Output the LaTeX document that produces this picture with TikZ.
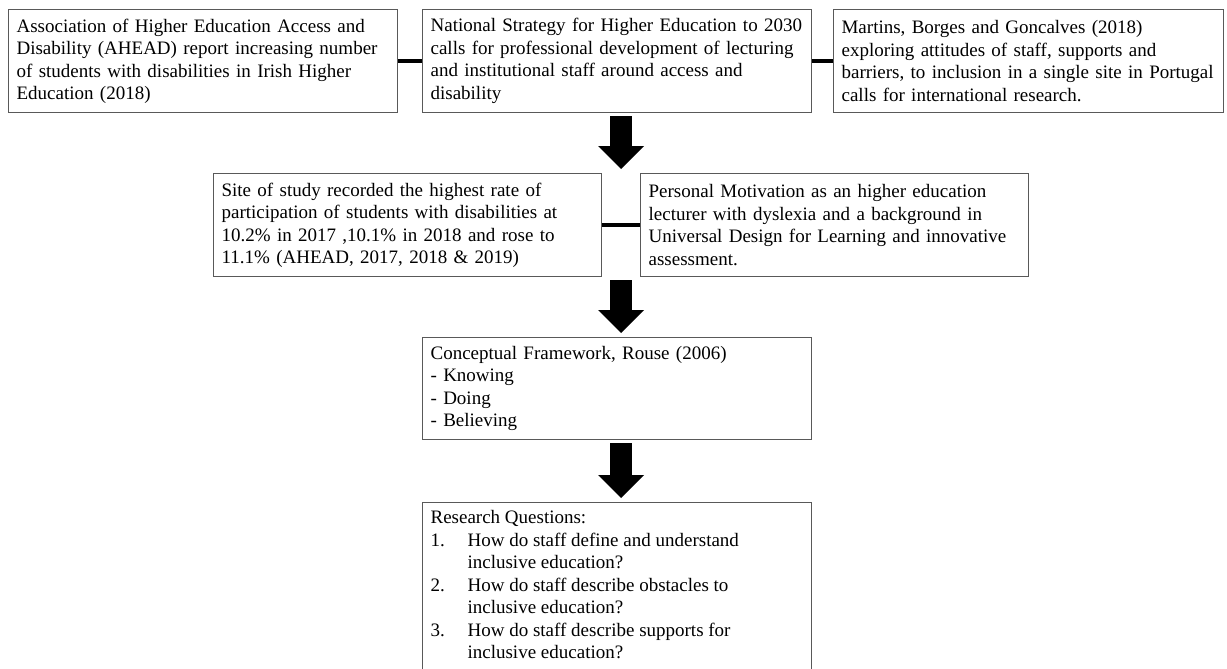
\documentclass[tikz,border=0pt]{standalone}
\usepackage{fontspec}
\setmainfont{Liberation Serif}
\usetikzlibrary{arrows.meta}
\begin{document}
\begin{tikzpicture}[x=1pt,y=-1pt,
  box/.style={draw=black!65, line width=1.2pt, anchor=north west, align=left,
    inner xsep=8pt, inner ysep=0pt, font=\fontsize{19}{22.5}\selectfont},
  link/.style={line width=4pt, draw=black},
  bigarrow/.style={line width=22pt, draw=black,
    -{Triangle[width=46pt,length=23pt,line width=0pt]},
    shorten <=3pt, shorten >=4pt}]
\useasboundingbox (0,0) rectangle (1227,669);

\node[box, text width=373pt, minimum height=103pt] (b1) at (8,9)
  {Association of Higher Education Access and\\
   Disability (AHEAD) report increasing number\\
   of students with disabilities in Irish Higher\\
   Education (2018)};
\node[box, text width=373pt, minimum height=103pt] (b2) at (422,9)
  {National Strategy for Higher Education to 2030\\
   calls for professional development of lecturing\\
   and institutional staff around access and\\
   disability};
\node[box, text width=374pt, minimum height=103pt] (b3) at (833,9)
  {Martins, Borges and Goncalves (2018)\\
   exploring attitudes of staff, supports and\\
   barriers, to inclusion in a single site in Portugal\\
   calls for international research.};
\node[box, text width=372pt, minimum height=103pt] (b4) at (213,173)
  {Site of study recorded the highest rate of\\
   participation of students with disabilities at\\
   10.2\% in 2017 ,10.1\% in 2018 and rose to\\
   11.1\% (AHEAD, 2017, 2018 \& 2019)};
\node[box, text width=372pt, minimum height=103pt] (b5) at (640,173)
  {Personal Motivation as an higher education\\
   lecturer with dyslexia and a background in\\
   Universal Design for Learning and innovative\\
   assessment.};
\node[box, text width=373pt, minimum height=102pt] (b6) at (422,337)
  {Conceptual Framework, Rouse (2006)\\
   - Knowing\\
   - Doing\\
   - Believing};
\node[box, inner ysep=8pt] (b7) at (422,502)
  {\parbox[c][160pt][t]{373pt}{\raggedright
   Research Questions:\\
   \makebox[37pt][l]{1.}How do staff define and understand\\
   \hspace*{37pt}inclusive education?\\
   \makebox[37pt][l]{2.}How do staff describe obstacles to\\
   \hspace*{37pt}inclusive education?\\
   \makebox[37pt][l]{3.}How do staff describe supports for\\
   \hspace*{37pt}inclusive education?}};

\draw[link] (b1) -- (b2);
\draw[link] (b2) -- (b3);
\draw[link] (b4) -- (b5);

\coordinate (ax) at (621,0);
\draw[bigarrow] (ax |- b2.south) -- (ax |- b4.north);
\draw[bigarrow] (ax |- b4.south) -- (ax |- b6.north);
\draw[bigarrow] (ax |- b6.south) -- (ax |- b7.north);
\end{tikzpicture}
\end{document}
